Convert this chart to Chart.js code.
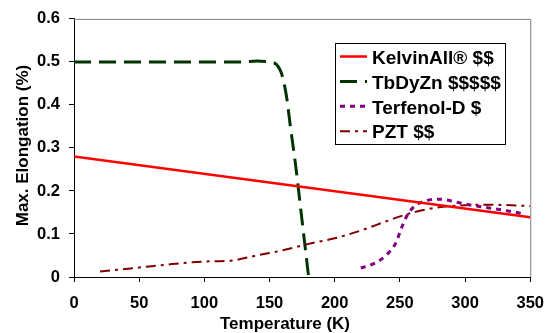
<!DOCTYPE html>
<html>
<head>
<meta charset="utf-8">
<script src="https://cdn.jsdelivr.net/npm/chart.js@4.4.1/dist/chart.umd.min.js"></script>
<style>
  html, body { margin: 0; padding: 0; background: #ffffff; }
  #wrap { width: 556px; height: 333px; position: relative; }
</style>
</head>
<body>
<div id="wrap"><canvas id="c" width="556" height="333"></canvas></div>
<script>
// ---- data ----
const seriesNames = ['KelvinAll\u00AE $$', 'TbDyZn $$$$$', 'Terfenol-D $', 'PZT $$'];

const kelvinT = [0, 350];
const kelvinE = [0.28, 0.139];

const tbT = [0, 20, 40, 60, 80, 100, 120, 130, 140, 150, 155, 158, 160, 163, 166, 170, 175, 180];
const tbE = [0.5, 0.5, 0.5, 0.5, 0.5, 0.5, 0.5, 0.5, 0.502, 0.5, 0.495, 0.482, 0.465, 0.42, 0.35, 0.26, 0.13, 0];

const terT = [220, 230, 240, 247, 251, 255, 261, 271, 281, 292, 301, 311, 322, 332, 345];
const terE = [0.021, 0.031, 0.052, 0.08, 0.112, 0.14, 0.164, 0.178, 0.181, 0.175, 0.169, 0.164, 0.159, 0.154, 0.147];

const pztT = [20, 50, 75, 100, 120, 140, 160, 180, 200, 220, 240, 260, 280, 300, 320, 350];
const pztE = [0.013, 0.022, 0.03, 0.036, 0.038, 0.05, 0.062, 0.077, 0.09, 0.108, 0.13, 0.15, 0.162, 0.167, 0.168, 0.165];

const xTickLabels = ['0', '50', '100', '150', '200', '250', '300', '350'];
const yTickLabels = ['0', '0.1', '0.2', '0.3', '0.4', '0.5', '0.6'];
const xTitle = 'Temperature (K)';
const yTitle = 'Max. Elongation (%)';

// ---- styles ----
const FONT = "'Liberation Sans', Arial, sans-serif";
const styles = [
  { color: '#ff0000', width: 2.5, dash: [] },
  { color: '#003300', width: 3, dash: [17, 8] },
  { color: '#800080', width: 3, dash: [5, 5] },
  { color: '#800000', width: 2, dash: [10, 5, 3, 5] }
];

function pts(xs, ys) { return xs.map((x, i) => ({ x: x, y: ys[i] })); }
const allData = [pts(kelvinT, kelvinE), pts(tbT, tbE), pts(terT, terE), pts(pztT, pztE)];

const datasets = allData.map((d, i) => ({
  label: seriesNames[i],
  data: d,
  borderColor: styles[i].color,
  backgroundColor: styles[i].color,
  borderWidth: styles[i].width,
  borderDash: styles[i].dash,
  borderCapStyle: 'butt',
  pointRadius: 0,
  fill: false,
  cubicInterpolationMode: i === 0 ? 'default' : 'monotone',
  tension: i === 0 ? 0 : 0.4
}));

const decor = {
  id: 'decor',
  beforeDatasetsDraw(chart) {
    const { ctx, chartArea: a } = chart;
    ctx.save();
    ctx.strokeStyle = '#808080';
    ctx.lineWidth = 1;
    ctx.beginPath();
    ctx.moveTo(a.left, a.top + 0.5);
    ctx.lineTo(a.right + 0.5, a.top + 0.5);
    ctx.lineTo(a.right + 0.5, a.bottom);
    ctx.stroke();
    ctx.restore();
  },
  afterDraw(chart) {
    const { ctx } = chart;
    ctx.save();
    // axis titles
    ctx.fillStyle = '#000';
    ctx.font = 'bold 17px ' + FONT;
    ctx.textAlign = 'center';
    ctx.textBaseline = 'alphabetic';
    ctx.fillText(xTitle, 285, 329);
    ctx.save();
    ctx.translate(28, 145.5);
    ctx.rotate(-Math.PI / 2);
    ctx.fillText(yTitle, 0, 0);
    ctx.restore();

    // legend
    const bx = 335.5, by = 43.5, bw = 170, bh = 101;
    ctx.fillStyle = '#fff';
    ctx.fillRect(bx, by, bw, bh);
    ctx.strokeStyle = '#000';
    ctx.lineWidth = 1;
    ctx.strokeRect(bx, by, bw, bh);
    ctx.font = 'bold 19px ' + FONT;
    ctx.textAlign = 'left';
    ctx.textBaseline = 'middle';
    for (let i = 0; i < seriesNames.length; i++) {
      const y = 57.5 + i * 24.9;
      ctx.save();
      ctx.strokeStyle = styles[i].color;
      ctx.lineWidth = styles[i].width;
      ctx.setLineDash(styles[i].dash);
      ctx.lineCap = 'butt';
      ctx.beginPath();
      ctx.moveTo(340, y - 1);
      ctx.lineTo(367, y - 1);
      ctx.stroke();
      ctx.restore();
      ctx.fillStyle = '#000';
      ctx.fillText(seriesNames[i], 372, y + 1);
    }
    ctx.restore();
  }
};

new Chart(document.getElementById('c'), {
  type: 'line',
  data: { datasets: datasets },
  plugins: [decor],
  options: {
    responsive: false,
    animation: false,
    devicePixelRatio: 1,
    layout: { padding: { left: 0, top: 15, right: 22, bottom: 0 } },
    plugins: { legend: { display: false }, tooltip: { enabled: false }, title: { display: false } },
    scales: {
      x: {
        type: 'linear',
        min: 0, max: 350,
        afterFit(s) { s.height = 56; },
        border: { color: '#000', width: 1 },
        grid: { drawOnChartArea: false, drawTicks: true, tickLength: 5, color: '#000' },
        ticks: {
          stepSize: 50,
          color: '#000',
          padding: 12,
          maxRotation: 0,
          font: { family: FONT, size: 16.5, weight: 'bold' },
          callback: (v) => xTickLabels[Math.round(v / 50)]
        }
      },
      y: {
        min: 0, max: 0.6,
        afterFit(s) { s.width = 74; },
        border: { color: '#000', width: 1 },
        grid: { drawOnChartArea: false, drawTicks: true, tickLength: 5, color: '#000' },
        ticks: {
          stepSize: 0.1,
          color: '#000',
          padding: 9,
          font: { family: FONT, size: 16.5, weight: 'bold' },
          callback: (v) => yTickLabels[Math.round(v * 10)]
        }
      }
    }
  }
});
</script>
</body>
</html>
